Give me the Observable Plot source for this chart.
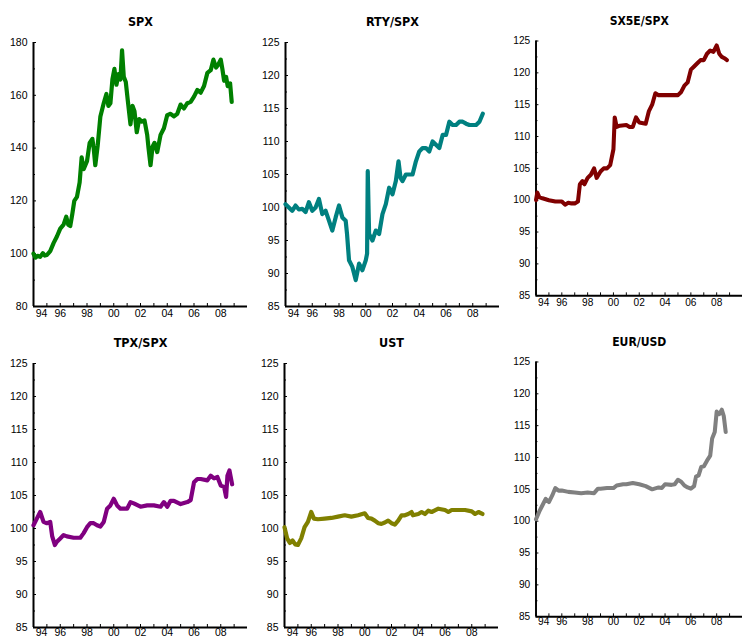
<!DOCTYPE html>
<html>
<head>
<meta charset="utf-8">
<script src="https://cdn.jsdelivr.net/npm/d3@7"></script>
<script src="https://cdn.jsdelivr.net/npm/@observablehq/plot@0.6"></script>
<style>
  html, body { margin: 0; padding: 0; background: #fff; overflow: hidden; }
  #wrap { position: relative; width: 742px; height: 637px; overflow: hidden; }
  .panel { position: absolute; }
  svg { overflow: visible; }
</style>
</head>
<body>
<div id="wrap"></div>
<script>
// ---- data: [year, value] ----
const spx = [[1994.0,100],[1994.15,98.5],[1994.3,99.2],[1994.5,98.8],[1994.7,100.2],[1994.85,99.3],[1995.0,99.5],[1995.25,101],[1995.5,104],[1995.75,106.5],[1996.0,109.5],[1996.25,111],[1996.45,114],[1996.6,111],[1996.75,110.5],[1996.9,115],[1997.05,120],[1997.25,121.5],[1997.45,127],[1997.6,136.5],[1997.75,132],[1998.0,135],[1998.2,142],[1998.4,143.5],[1998.5,140],[1998.62,133.5],[1998.8,141],[1999.0,152],[1999.25,157],[1999.45,160.5],[1999.6,156],[1999.75,157],[1999.9,166],[2000.05,170],[2000.2,164],[2000.35,168],[2000.5,166],[2000.62,177],[2000.75,167],[2000.9,165],[2001.05,158],[2001.25,149],[2001.4,156],[2001.55,154],[2001.72,146],[2001.9,151],[2002.1,150],[2002.3,150.5],[2002.5,145],[2002.6,140],[2002.75,133.5],[2002.9,140.5],[2003.05,142],[2003.25,138.5],[2003.5,145],[2003.75,147.5],[2004.0,152.5],[2004.25,153],[2004.5,152],[2004.75,153],[2005.0,156.5],[2005.25,155],[2005.5,157],[2005.75,157.5],[2006.0,159.5],[2006.25,162],[2006.5,161],[2006.75,163.5],[2007.0,168.5],[2007.25,169.5],[2007.45,173.5],[2007.65,170.5],[2007.8,171.5],[2008.0,173.5],[2008.12,170],[2008.25,165.5],[2008.4,167],[2008.52,163.5],[2008.7,164.5],[2008.82,157.5]];
const rty = [[1994.0,100.5],[1994.25,100],[1994.5,99.5],[1994.75,100.3],[1995.0,99.7],[1995.25,99.8],[1995.5,99.3],[1995.75,100.8],[1996.0,99.5],[1996.25,100],[1996.5,101.3],[1996.75,99],[1997.0,99.5],[1997.25,98],[1997.5,96.5],[1997.75,98.5],[1998.0,100.3],[1998.25,98.5],[1998.5,98],[1998.6,96],[1998.75,92],[1999.0,91],[1999.25,89],[1999.5,91.5],[1999.75,90.5],[2000.0,92],[2000.1,93],[2000.15,105.5],[2000.25,96],[2000.5,95],[2000.75,96.5],[2001.0,96],[2001.25,99],[2001.5,100.5],[2001.75,103],[2002.0,102],[2002.25,104],[2002.45,107],[2002.6,104.5],[2002.75,104],[2003.0,105],[2003.25,105],[2003.5,105],[2003.75,107],[2004.0,108.5],[2004.25,109],[2004.5,109],[2004.75,108.5],[2005.0,110],[2005.25,109.5],[2005.5,109],[2005.75,111],[2006.0,111],[2006.25,113],[2006.5,112.5],[2006.75,112.5],[2007.0,113],[2007.25,113],[2007.5,112.7],[2007.75,112.5],[2008.0,112.5],[2008.25,112.5],[2008.5,113],[2008.75,114.2]];
const sx5e = [[1994.0,100],[1994.1,101.2],[1994.25,100.5],[1994.5,100.3],[1995.0,100],[1995.5,99.8],[1996.0,99.8],[1996.25,99.3],[1996.5,99.6],[1996.75,99.5],[1997.0,99.5],[1997.25,99.8],[1997.4,102.5],[1997.6,103],[1997.75,102.5],[1998.0,103.5],[1998.25,104],[1998.5,105],[1998.7,103.5],[1999.0,104.5],[1999.25,105],[1999.5,105],[1999.75,105.5],[2000.0,108],[2000.1,113],[2000.25,111.5],[2000.5,111.7],[2001.0,111.8],[2001.25,111.5],[2001.5,111.5],[2001.75,113],[2002.0,112.2],[2002.5,112],[2002.75,114],[2003.0,115],[2003.25,116.8],[2003.5,116.5],[2004.0,116.5],[2004.5,116.5],[2005.0,116.5],[2005.25,117],[2005.5,118],[2005.75,118.5],[2006.0,120.5],[2006.25,121],[2006.5,121.5],[2006.75,122],[2007.0,122],[2007.25,123],[2007.5,123.5],[2007.75,123.3],[2008.0,124.3],[2008.2,123],[2008.4,122.5],[2008.6,122.3],[2008.8,122]];
const tpx = [[1994.0,100.5],[1994.25,101.5],[1994.5,102.5],[1994.75,101],[1995.0,100.8],[1995.25,101],[1995.4,98.8],[1995.6,97.5],[1995.75,98],[1996.0,98.5],[1996.25,99],[1996.5,98.8],[1997.0,98.6],[1997.5,98.6],[1997.75,99.3],[1998.0,100.2],[1998.25,100.8],[1998.5,100.8],[1998.75,100.5],[1999.0,100.3],[1999.25,101],[1999.5,103],[1999.75,103.5],[2000.0,104.5],[2000.25,103.5],[2000.5,103],[2000.75,103],[2001.0,103],[2001.25,104],[2001.5,103.8],[2002.0,103.3],[2002.5,103.5],[2003.0,103.5],[2003.5,103.3],[2003.75,104],[2004.0,103.3],[2004.25,104.2],[2004.5,104.2],[2005.0,103.7],[2005.5,104],[2005.75,104.3],[2006.0,107],[2006.25,107.5],[2006.5,107.5],[2007.0,107.3],[2007.25,108],[2007.5,107.6],[2007.75,107.8],[2008.0,106.5],[2008.25,106.3],[2008.4,104.8],[2008.5,108],[2008.65,108.8],[2008.85,106.7]];
const ust = [[1994.0,100.2],[1994.2,98.5],[1994.4,97.8],[1994.6,98.2],[1994.8,97.6],[1995.0,97.5],[1995.25,98.5],[1995.5,100.2],[1995.75,101],[1996.0,102.5],[1996.2,101.5],[1996.5,101.4],[1997.0,101.5],[1997.5,101.6],[1998.0,101.8],[1998.5,102],[1999.0,101.8],[1999.5,102],[2000.0,102.3],[2000.25,101.6],[2000.5,101.5],[2000.75,101.2],[2001.0,100.8],[2001.25,100.7],[2001.5,100.9],[2001.75,101.2],[2002.0,100.8],[2002.25,100.6],[2002.5,101.2],[2002.75,102],[2003.0,102],[2003.25,102.2],[2003.5,102.5],[2003.6,102],[2004.0,102.2],[2004.25,102.5],[2004.5,102.2],[2004.75,102.7],[2005.0,102.5],[2005.5,103],[2006.0,102.8],[2006.25,102.5],[2006.5,102.8],[2007.0,102.8],[2007.5,102.8],[2008.0,102.6],[2008.25,102.2],[2008.5,102.5],[2008.8,102.2]];
const eur = [[1994.0,100.3],[1994.25,101.5],[1994.5,102.5],[1994.75,103.5],[1995.0,103],[1995.25,104],[1995.5,105.2],[1995.75,104.8],[1996.0,104.8],[1996.5,104.6],[1997.0,104.5],[1997.5,104.4],[1998.0,104.5],[1998.5,104.4],[1998.8,105.1],[1999.0,105.1],[1999.5,105.2],[2000.0,105.2],[2000.25,105.6],[2000.75,105.8],[2001.0,105.8],[2001.5,106],[2002.0,105.8],[2002.5,105.5],[2003.0,105],[2003.5,105.3],[2003.75,105.2],[2004.0,105.8],[2004.5,105.7],[2004.75,105.8],[2005.0,106.5],[2005.25,106.2],[2005.5,105.6],[2005.75,105.3],[2006.0,105.1],[2006.25,105.5],[2006.4,107],[2006.6,107.2],[2006.8,108.5],[2007.0,108.6],[2007.25,109.5],[2007.5,110.3],[2007.65,113],[2007.85,114],[2008.0,117.2],[2008.2,116.8],[2008.4,117.5],[2008.55,116.5],[2008.7,114]];

const titles = ["SPX","RTY/SPX","SX5E/SPX","TPX/SPX","UST","EUR/USD"];
const colors = ["#008000","#008080","#800000","#800080","#808000","#808080"];
const series = [spx, rty, sx5e, tpx, ust, eur];
const yDomains = [[80,180],[85,125],[85,125],[85,125],[85,125],[85,125]];
const yMajor = [[80,100,120,140,160,180],[85,90,95,100,105,110,115,120,125]];
const xDomain = [1994, 2010];
const xLabelYears = [1994,1996,1998,2000,2002,2004,2006,2008];
const xTickYears = d3.range(1994, 2010);

// layout per panel
const layout = [
  {left:0,   top:0,   ml:33, w:250, mt:42, pb:306, pad:3},
  {left:250, top:0,   ml:35, w:250, mt:42, pb:306, pad:3},
  {left:495, top:0,   ml:42, w:256, mt:42, pb:306, pad:3},
  {left:0,   top:320, ml:33, w:250, mt:43, pb:307, pad:1},
  {left:250, top:320, ml:34, w:250, mt:43, pb:307, pad:1},
  {left:495, top:320, ml:42, w:256, mt:43, pb:307, pad:1},
];

const wrap = document.getElementById("wrap");
const H = 340;
series.forEach((data, i) => {
  const L = layout[i];
  const [y0, y1] = yDomains[i];
  const major = i === 0 ? yMajor[0] : yMajor[1];
  const step = major[1] - major[0];
  const minor = major.slice(0, -1).map(v => v + step / 2);
  const fmt = d => String(d % 100).padStart(2, "0");
  const chart = Plot.plot({
    width: L.w, height: H,
    marginLeft: L.ml, marginRight: L.w - L.ml - 214,
    marginTop: L.mt, marginBottom: H - L.pb,
    style: {fontFamily: "Liberation Sans, Arial, sans-serif", fontSize: "10.5px", color: "#000", background: "transparent", overflow: "visible"},
    x: {domain: xDomain},
    y: {domain: [y0, y1]},
    marks: [
      Plot.axisY(major, {tickSize: 0, tickPadding: 6, tickFormat: d => d, fill: "#000"}),
      Plot.axisY(major, {tickSize: -3, text: null, stroke: "#000", strokeWidth: 1}),
      Plot.axisY(minor, {tickSize: -2, text: null, stroke: "#000", strokeWidth: 1}),
      Plot.axisX(xTickYears, {tickSize: -3, text: null, stroke: "#000", strokeWidth: 1}),
      Plot.axisX(xLabelYears.slice(1), {tickSize: 0, tickPadding: L.pad, tickFormat: fmt, fill: "#000"}),
      Plot.axisX(xLabelYears.slice(0, 1), {tickSize: 0, tickPadding: L.pad, tickFormat: fmt, dx: 8, fill: "#000"}),
      Plot.ruleX([xDomain[0]], {stroke: "#000", strokeWidth: 2}),
      Plot.ruleY([y0], {stroke: "#000", strokeWidth: 2}),
      Plot.line(data, {x: d => d[0], y: d => d[1], stroke: colors[i], strokeWidth: 4.2, strokeLinejoin: "round"}),
      Plot.text([titles[i]], {frameAnchor: "top", dy: -25, fontSize: 12.5, fontWeight: "bold", fill: "#000", fontFamily: "DejaVu Sans Condensed, DejaVu Sans, sans-serif"})
    ]
  });
  const div = document.createElement("div");
  div.className = "panel";
  div.style.left = L.left + "px";
  div.style.top = L.top + "px";
  div.appendChild(chart);
  wrap.appendChild(div);
});
</script>
</body>
</html>
